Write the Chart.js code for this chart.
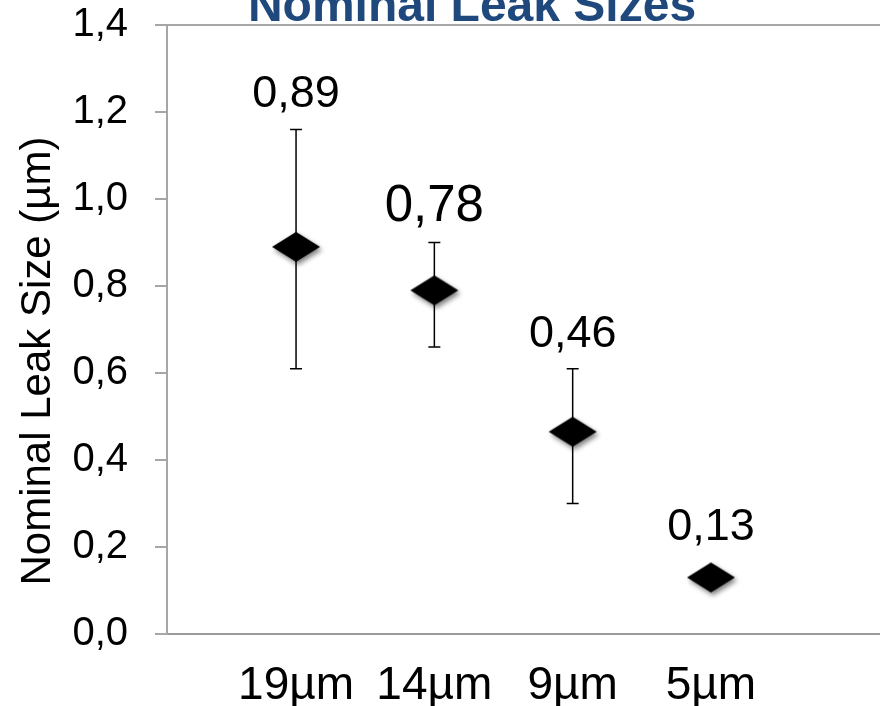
<!DOCTYPE html>
<html>
<head>
<meta charset="utf-8">
<script src="https://cdn.jsdelivr.net/npm/chart.js@4.4.1/dist/chart.umd.min.js"></script>
<style>
  html, body { margin: 0; padding: 0; background: #fff; }
  #wrap { width: 880px; height: 706px; overflow: hidden; }
</style>
</head>
<body>
<div id="wrap"><canvas id="leak-graph" width="880" height="706"></canvas></div>
<script>
var sizes = ['19µm', '14µm', '9µm', '5µm'];
var leakSize = [0.89, 0.79, 0.465, 0.13];
var leakLabels = ['0,89', '0,78', '0,46', '0,13'];
var errLow = [0.61, 0.66, 0.30, 0.13];
var errHigh = [1.16, 0.90, 0.61, 0.13];
var yTicks = [0, 0.2, 0.4, 0.6, 0.8, 1.0, 1.2, 1.4];

var FONT = '"Liberation Sans", Arial, Helvetica, sans-serif';

// flat diamond marker with a soft shadow
function makeDiamond() {
      var c = document.createElement('canvas');
      c.width = 66; c.height = 50;
      var g = c.getContext('2d');
      g.shadowColor = 'rgba(0,0,0,0.5)';
      g.shadowBlur = 5;
      g.shadowOffsetX = 2;
      g.shadowOffsetY = 3;
      g.fillStyle = '#000';
      g.beginPath();
      g.moveTo(33 - 24, 25);
      g.lineTo(33, 25 - 15);
      g.lineTo(33 + 24, 25);
      g.lineTo(33, 25 + 15);
      g.closePath();
      g.fill();
      return c;
}

var errorBars = {
      id: 'errorBars',
      beforeDatasetsDraw: function(chart) {
            var ctx = chart.ctx, xs = chart.scales.x, ys = chart.scales.y;
            ctx.save();
            ctx.strokeStyle = '#000';
            ctx.lineWidth = 1.5;
            for (var i = 0; i < sizes.length; i++) {
                  if (errHigh[i] === errLow[i]) continue;
                  var x = xs.getPixelForValue(i + 1);
                  var y1 = ys.getPixelForValue(errHigh[i]);
                  var y2 = ys.getPixelForValue(errLow[i]);
                  ctx.beginPath();
                  ctx.moveTo(x, y1); ctx.lineTo(x, y2);
                  ctx.moveTo(x - 6, y1); ctx.lineTo(x + 6, y1);
                  ctx.moveTo(x - 6, y2); ctx.lineTo(x + 6, y2);
                  ctx.stroke();
            }
            ctx.restore();
      }
};

var valueLabels = {
      id: 'valueLabels',
      afterDatasetsDraw: function(chart, args, opts) {
            var ctx = chart.ctx, xs = chart.scales.x, ys = chart.scales.y;
            ctx.save();
            ctx.fillStyle = '#000';
            ctx.textAlign = 'center';
            ctx.textBaseline = 'alphabetic';
            for (var i = 0; i < leakLabels.length; i++) {
                  var x = xs.getPixelForValue(i + 1);
                  var top = errHigh[i] > leakSize[i] ? ys.getPixelForValue(errHigh[i]) : ys.getPixelForValue(leakSize[i]) - 15;
                  ctx.font = opts.sizes[i] + 'px ' + FONT;
                  ctx.fillText(leakLabels[i], x, top - 22);
            }
            ctx.restore();
      }
};

var texts = {
      id: 'texts',
      afterDraw: function(chart) {
            var ctx = chart.ctx;
            ctx.save();
            ctx.fillStyle = '#1F497D';
            ctx.font = 'bold 48px ' + FONT;
            ctx.textAlign = 'center';
            ctx.textBaseline = 'alphabetic';
            ctx.fillText('Nominal Leak Sizes', 472, 21);

            ctx.fillStyle = '#000';
            ctx.font = '42px ' + FONT;
            ctx.translate(50, 361);
            ctx.rotate(-Math.PI / 2);
            ctx.fillText('Nominal Leak Size (µm)', 0, 0);
            ctx.restore();
      }
};

var leakData = {
      datasets: [{
            label: 'Nominal Leak Size',
            data: leakSize.map(function(v, i) { return { x: i + 1, y: v }; }),
            pointStyle: makeDiamond(),
            pointRadius: 24,
            showLine: false
      }]
};

var ctx1 = document.getElementById('leak-graph');
var leakChart = new Chart(ctx1, {
      type: 'scatter',
      data: leakData,
      plugins: [errorBars, valueLabels, texts],
      options: {
            responsive: false,
            animation: false,
            layout: { autoPadding: false, padding: { top: 25, right: 0, bottom: 0, left: 0 } },
            plugins: {
                  legend: { display: false },
                  title: { display: false },
                  tooltip: { enabled: false },
                  valueLabels: { sizes: [45, 51, 45, 45] }
            },
            scales: {
                  x: {
                        type: 'linear',
                        min: 0.067,
                        max: 5.222,
                        afterBuildTicks: function(scale) {
                              scale.ticks = sizes.map(function(s, i) { return { value: i + 1 }; });
                        },
                        afterFit: function(scale) {
                              scale.height = 72;
                              scale.paddingLeft = 0;
                              scale.paddingRight = 0;
                        },
                        grid: { display: false },
                        border: { display: true, color: '#9a9a9a', width: 2 },
                        ticks: {
                              autoSkip: false,
                              maxRotation: 0,
                              padding: 17,
                              color: '#000',
                              font: { family: FONT, size: 46 },
                              callback: function(v) { return sizes[v - 1]; }
                        }
                  },
                  y: {
                        min: 0,
                        max: 1.4,
                        afterBuildTicks: function(scale) {
                              scale.ticks = yTicks.map(function(v) { return { value: v }; });
                        },
                        afterFit: function(scale) {
                              scale.width = 167;
                              scale.paddingTop = 0;
                              scale.paddingBottom = 0;
                        },
                        grid: {
                              drawOnChartArea: true,
                              color: function(c) { return c.tick && c.tick.value === 1.4 ? '#a6a6a6' : 'rgba(0,0,0,0)'; },
                              tickColor: '#a6a6a6',
                              tickLength: 12,
                              lineWidth: 2
                        },
                        border: { display: true, color: '#a6a6a6', width: 2 },
                        ticks: {
                              padding: 27,
                              color: '#000',
                              font: { family: FONT, size: 40 },
                              callback: function(v) { return v.toFixed(1).replace('.', ','); }
                        }
                  }
            }
      }
});
</script>
</body>
</html>
